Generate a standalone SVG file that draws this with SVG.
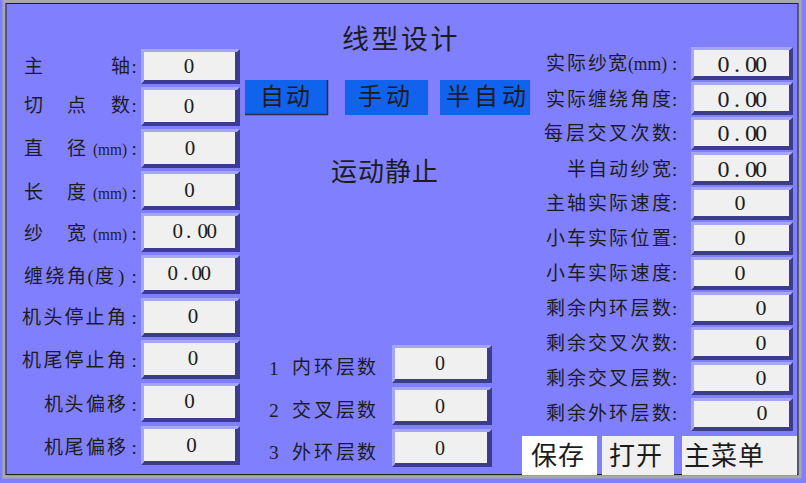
<svg xmlns="http://www.w3.org/2000/svg" xmlns:xlink="http://www.w3.org/1999/xlink" width="806" height="483" viewBox="0 0 806 483">
<style>
text{font-family:'Liberation Serif','Noto Sans CJK SC',serif;fill:#1c1c1c}
.lb{font-size:19px}
.mm{font-size:16.5px}
.mmr{font-size:18px}
.v{font-size:21px;text-anchor:middle}
.vr{font-size:22px;text-anchor:middle}
.vf{font-size:24px}
.vm{font-size:20px;text-anchor:middle}
.bt{font-size:24px}
.bb{font-size:26px}
.bd{fill:#3c3c8c}
.bl{fill:#a6a6f6}
.bw{fill:#f0f0f0}
.btn{fill:#1162ec}
</style>
<defs>
<symbol id="bL" overflow="visible"><rect width="99" height="39" class="bd"/><path d="M0 0H99L96 3H3V36L0 39Z" class="bl"/><rect x="3" y="3" width="91" height="32" class="bw"/></symbol>
<symbol id="bL1" overflow="visible"><rect width="99" height="35" class="bd"/><path d="M0 0H99L96 3H3V32L0 35Z" class="bl"/><rect x="3" y="3" width="91" height="28" class="bw"/></symbol>
<symbol id="bR" overflow="visible"><rect width="102" height="33" class="bd"/><path d="M0 0H102L99 3H3V30L0 33Z" class="bl"/><rect x="3" y="3" width="95" height="26" class="bw"/></symbol>
<symbol id="bM" overflow="visible"><rect width="100" height="38" class="bd"/><path d="M0 0H100L97 3H3V35L0 38Z" class="bl"/><rect x="3" y="3" width="92" height="31" class="bw"/></symbol>
</defs>
<g id="frame">
<rect width="806" height="483" fill="#8080ff"/>
<rect x="4" y="1.5" width="796" height="475.5" fill="none" stroke="#a8a8a8" stroke-width="3"/>
<rect x="6" y="3.5" width="792" height="471" fill="none" stroke="#1e1e1e" stroke-width="1"/>
</g>
<g id="title"><text font-size="27" y="48.5"><tspan x="342">线</tspan><tspan x="371.5">型</tspan><tspan x="401">设</tspan><tspan x="430.5">计</tspan></text></g>
<g id="mode-buttons">
<g id="btn-auto"><rect x="245" y="80" width="82" height="34" class="btn"/><path d="M245 114.5H327.5V80" fill="none" stroke="#2a2a55" stroke-width="1.5"/><text class="bt" y="105.4"><tspan x="260">自</tspan><tspan x="286">动</tspan></text></g>
<g id="btn-manual"><rect x="345" y="80" width="83" height="35" class="btn"/><text class="bt" y="105.4"><tspan x="358">手</tspan><tspan x="386">动</tspan></text></g>
<g id="btn-semi"><rect x="440" y="80" width="90" height="35" class="btn"/><text class="bt" y="105.4"><tspan x="446">半</tspan><tspan x="474">自</tspan><tspan x="502">动</tspan></text></g>
</g>
<g id="status"><text font-size="26" y="180.6"><tspan x="331">运</tspan><tspan x="358">动</tspan><tspan x="385">静</tspan><tspan x="412">止</tspan></text></g>
<g id="left-column">
<g id="spindle"><text class="lb" y="73"><tspan x="24">主</tspan><tspan x="111">轴</tspan><tspan x="131.5">:</tspan></text><use xlink:href="#bL1" x="141" y="49"/><text class="v" x="189" y="72.6">0</text></g>
<g id="cut-points"><text class="lb" y="111.5"><tspan x="24">切</tspan><tspan x="67">点</tspan><tspan x="111">数</tspan><tspan x="131.5">:</tspan></text><use xlink:href="#bL" x="141" y="87"/><text class="v" x="189" y="112.6">0</text></g>
<g id="diameter"><text class="lb" y="155"><tspan x="24">直</tspan><tspan x="67">径</tspan></text><text class="mm" x="93" y="155" textLength="34" lengthAdjust="spacingAndGlyphs">(mm)</text><text class="lb" x="131.5" y="155">:</text><use xlink:href="#bL" x="141" y="129"/><text class="v" x="190" y="155">0</text></g>
<g id="length"><text class="lb" y="198.5"><tspan x="24">长</tspan><tspan x="67">度</tspan></text><text class="mm" x="93" y="198.5" textLength="34" lengthAdjust="spacingAndGlyphs">(mm)</text><text class="lb" x="131.5" y="198.5">:</text><use xlink:href="#bL" x="141" y="171"/><text class="v" x="189.5" y="196.6">0</text></g>
<g id="yarn-width"><text class="lb" y="240"><tspan x="24">纱</tspan><tspan x="67">宽</tspan></text><text class="mm" x="93" y="240" textLength="34" lengthAdjust="spacingAndGlyphs">(mm)</text><text class="lb" x="131.5" y="240">:</text><use xlink:href="#bL" x="141" y="213"/><text font-size="21" y="238" x="172.5 186 197.5 206.5">0.00</text></g>
<g id="wind-angle"><text class="lb" y="282.5"><tspan x="24">缠</tspan><tspan x="45.5">绕</tspan><tspan x="67">角</tspan><tspan x="87.5">(</tspan><tspan x="95">度</tspan><tspan x="118">)</tspan><tspan x="131.5">:</tspan></text><use xlink:href="#bL" x="141" y="255"/><text font-size="21" y="279.6" x="167.5 183 191.5 200.5">0.00</text></g>
<g id="head-stop"><text class="lb" y="324"><tspan x="22">机</tspan><tspan x="43.5">头</tspan><tspan x="64.5">停</tspan><tspan x="85.5">止</tspan><tspan x="107">角</tspan><tspan x="131.5">:</tspan></text><use xlink:href="#bL" x="141" y="298"/><text class="v" x="193" y="322.6">0</text></g>
<g id="tail-stop"><text class="lb" y="367"><tspan x="22">机</tspan><tspan x="43.5">尾</tspan><tspan x="64.5">停</tspan><tspan x="85.5">止</tspan><tspan x="107">角</tspan><tspan x="131.5">:</tspan></text><use xlink:href="#bL" x="141" y="340"/><text class="v" x="193" y="364.6">0</text></g>
<g id="head-offset"><text class="lb" y="410.5"><tspan x="44">机</tspan><tspan x="64.5">头</tspan><tspan x="86">偏</tspan><tspan x="107">移</tspan><tspan x="131.5">:</tspan></text><use xlink:href="#bL" x="141" y="383"/><text class="v" x="189.5" y="407.6">0</text></g>
<g id="tail-offset"><text class="lb" y="453.5"><tspan x="44">机</tspan><tspan x="64.5">尾</tspan><tspan x="86">偏</tspan><tspan x="107">移</tspan><tspan x="131.5">:</tspan></text><use xlink:href="#bL" x="141" y="426"/><text class="v" x="191.5" y="451.6">0</text></g>
</g>
<g id="middle-column">
<g id="inner-layers"><text font-size="19.5" x="269" y="375">1</text><text class="lb" y="374"><tspan x="292">内</tspan><tspan x="314">环</tspan><tspan x="336">层</tspan><tspan x="357">数</tspan></text><use xlink:href="#bM" x="392" y="345"/><text class="vm" x="440" y="370.3">0</text></g>
<g id="cross-layers"><text font-size="19.5" x="269" y="417">2</text><text class="lb" y="417"><tspan x="292">交</tspan><tspan x="314">叉</tspan><tspan x="336">层</tspan><tspan x="357">数</tspan></text><use xlink:href="#bM" x="392" y="387"/><text class="vm" x="440" y="412.8">0</text></g>
<g id="outer-layers"><text font-size="19.5" x="269" y="459">3</text><text class="lb" y="458.5"><tspan x="292">外</tspan><tspan x="314">环</tspan><tspan x="336">层</tspan><tspan x="357">数</tspan></text><use xlink:href="#bM" x="392" y="429"/><text class="vm" x="440" y="455.3">0</text></g>
</g>
<g id="right-column">
<g id="actual-width"><text class="lb" y="69.5"><tspan x="546">实</tspan><tspan x="567">际</tspan><tspan x="588">纱</tspan><tspan x="608">宽</tspan></text><text class="mmr" x="628" y="69.5" textLength="39" lengthAdjust="spacingAndGlyphs">(mm)</text><text class="lb" x="672" y="69.5">:</text><use xlink:href="#bR" x="691" y="47"/><text class="vf" y="71.6" x="717.5 734 745 755">0.00</text></g>
<g id="actual-angle"><text class="lb" y="105.5"><tspan x="546">实</tspan><tspan x="567">际</tspan><tspan x="588">缠</tspan><tspan x="609">绕</tspan><tspan x="630.5">角</tspan><tspan x="652">度</tspan><tspan x="672">:</tspan></text><use xlink:href="#bR" x="691" y="82"/><text class="vf" y="106.6" x="717.5 734 745 755">0.00</text></g>
<g id="cross-per-layer"><text class="lb" y="140"><tspan x="544">每</tspan><tspan x="566">层</tspan><tspan x="587.5">交</tspan><tspan x="609">叉</tspan><tspan x="630.5">次</tspan><tspan x="652">数</tspan><tspan x="672">:</tspan></text><use xlink:href="#bR" x="691" y="117"/><text class="vf" y="140.6" x="717.5 734 745 755">0.00</text></g>
<g id="semi-width"><text class="lb" y="175.5"><tspan x="567">半</tspan><tspan x="588">自</tspan><tspan x="609">动</tspan><tspan x="630.5">纱</tspan><tspan x="652">宽</tspan><tspan x="672">:</tspan></text><use xlink:href="#bR" x="691" y="152"/><text class="vf" y="176.6" x="717.5 734 745 755">0.00</text></g>
<g id="spindle-speed"><text class="lb" y="210"><tspan x="546">主</tspan><tspan x="567">轴</tspan><tspan x="588">实</tspan><tspan x="609">际</tspan><tspan x="630.5">速</tspan><tspan x="652">度</tspan><tspan x="672">:</tspan></text><use xlink:href="#bR" x="691" y="187"/><text class="vr" x="740" y="209.9">0</text></g>
<g id="cart-position"><text class="lb" y="245"><tspan x="546">小</tspan><tspan x="567">车</tspan><tspan x="588">实</tspan><tspan x="609">际</tspan><tspan x="630.5">位</tspan><tspan x="652">置</tspan><tspan x="672">:</tspan></text><use xlink:href="#bR" x="691" y="222"/><text class="vr" x="740" y="244.9">0</text></g>
<g id="cart-speed"><text class="lb" y="280"><tspan x="546">小</tspan><tspan x="567">车</tspan><tspan x="588">实</tspan><tspan x="609">际</tspan><tspan x="630.5">速</tspan><tspan x="652">度</tspan><tspan x="672">:</tspan></text><use xlink:href="#bR" x="691" y="257"/><text class="vr" x="740" y="279.9">0</text></g>
<g id="remain-inner"><text class="lb" y="315"><tspan x="546">剩</tspan><tspan x="567">余</tspan><tspan x="588">内</tspan><tspan x="609">环</tspan><tspan x="630.5">层</tspan><tspan x="652">数</tspan><tspan x="672">:</tspan></text><use xlink:href="#bR" x="691" y="292"/><text class="vr" x="761" y="314.9">0</text></g>
<g id="remain-cross-count"><text class="lb" y="350"><tspan x="546">剩</tspan><tspan x="567">余</tspan><tspan x="588">交</tspan><tspan x="609">叉</tspan><tspan x="630.5">次</tspan><tspan x="652">数</tspan><tspan x="672">:</tspan></text><use xlink:href="#bR" x="691" y="327"/><text class="vr" x="761" y="349.9">0</text></g>
<g id="remain-cross-layers"><text class="lb" y="385"><tspan x="546">剩</tspan><tspan x="567">余</tspan><tspan x="588">交</tspan><tspan x="609">叉</tspan><tspan x="630.5">层</tspan><tspan x="652">数</tspan><tspan x="672">:</tspan></text><use xlink:href="#bR" x="691" y="362"/><text class="vr" x="761" y="384.9">0</text></g>
<g id="remain-outer"><text class="lb" y="420"><tspan x="546">剩</tspan><tspan x="567">余</tspan><tspan x="588">外</tspan><tspan x="609">环</tspan><tspan x="630.5">层</tspan><tspan x="652">数</tspan><tspan x="672">:</tspan></text><use xlink:href="#bR" x="691" y="398"/><text class="vr" x="762" y="419.9">0</text></g>
</g>
<g id="bottom-buttons">
<g id="btn-save"><rect x="522" y="436" width="75" height="39" fill="#ffffff"/><text class="bb" y="464.6"><tspan x="531">保</tspan><tspan x="558">存</tspan></text></g>
<g id="btn-open"><rect x="602" y="436" width="72" height="39" fill="#f0f0f0"/><text class="bb" y="464.6"><tspan x="609">打</tspan><tspan x="636">开</tspan></text></g>
<g id="btn-menu"><rect x="682" y="436" width="115" height="39" fill="#f0f0f0"/><text class="bb" y="464.6"><tspan x="684">主</tspan><tspan x="711">菜</tspan><tspan x="738">单</tspan></text></g>
</g>
</svg>
